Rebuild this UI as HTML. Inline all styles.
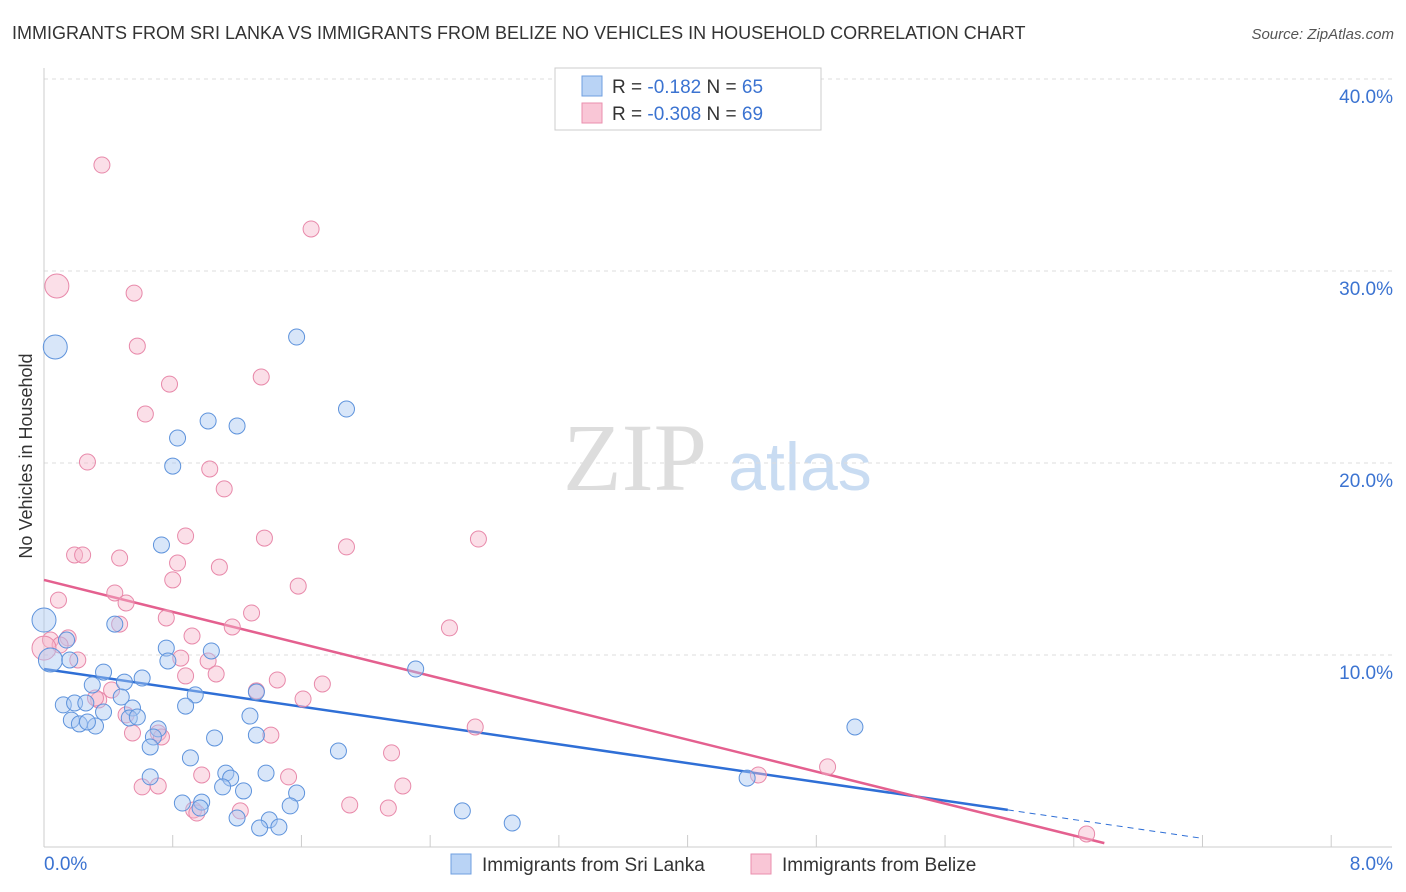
<!DOCTYPE html>
<html><head><meta charset="utf-8"><style>
body{margin:0;background:#fff;font-family:"Liberation Sans",sans-serif;}
#wrap{position:relative;width:1406px;height:892px;overflow:hidden;}
</style></head><body>
<div id="wrap">
<svg id="chart" width="1406" height="892">
<text x="12" y="39" font-size="18" fill="#333">IMMIGRANTS FROM SRI LANKA VS IMMIGRANTS FROM BELIZE NO VEHICLES IN HOUSEHOLD CORRELATION CHART</text>
<text x="1394" y="39" font-size="15" fill="#555" font-style="italic" text-anchor="end">Source: ZipAtlas.com</text>
<text x="32" y="456" font-size="18" fill="#333" text-anchor="middle" transform="rotate(-90 32 456)">No Vehicles in Household</text>
<g><text x="635" y="490" font-size="96" fill="#ddd" font-family="Liberation Serif" text-anchor="middle">ZIP</text><text x="800" y="490" font-size="68" fill="#c9dcf2" text-anchor="middle">atlas</text></g>
<g id="grid"></g><g id="trend"></g><g id="pts"></g>
<g>
<rect x="555" y="68" width="266" height="62" fill="#fff" stroke="#ccc"/>
<rect x="582" y="76" width="20" height="20" fill="#b9d3f5" stroke="#6f9fe0"/>
<rect x="582" y="103" width="20" height="20" fill="#f9c6d6" stroke="#ea8fae"/>
<text x="612" y="93" font-size="19" fill="#333">R = <tspan fill="#3b73d1">-0.182</tspan>   N = <tspan fill="#3b73d1">65</tspan></text>
<text x="612" y="120" font-size="19" fill="#333">R = <tspan fill="#3b73d1">-0.308</tspan>   N = <tspan fill="#3b73d1">69</tspan></text>
</g>
<g>
<rect x="451" y="854" width="20" height="20" fill="#b9d3f5" stroke="#6f9fe0"/>
<text x="482" y="871" font-size="19" fill="#333">Immigrants from Sri Lanka</text>
<rect x="751" y="854" width="20" height="20" fill="#f9c6d6" stroke="#ea8fae"/>
<text x="782" y="871" font-size="19" fill="#333">Immigrants from Belize</text>
</g>
</svg>
</div>
<script>
const yTicks=[10,20,30,40];
const yTickLabels=["10.0%","20.0%","30.0%","40.0%"];
const xTickLabels=["0.0%","8.0%"];
const blueX=[.07,1.57,1.88,1.02,1.20,.83,.80,.73,.44,.76,1.04,.77,0,.04,.16,.14,.37,.61,.30,.50,.48,.94,.88,.12,.19,.26,.55,.37,.53,.58,.17,.22,.32,.27,1.28,1.32,1.06,.71,1.32,.68,.66,.91,1.83,2.31,5.04,4.37,1.38,.66,1.13,1.16,1.11,1.24,1.57,.86,.98,1.53,2.60,2.91,1.20,1.40,1.46,1.34,.97];
const blueY=[26.04,26.56,22.81,22.19,21.93,21.30,19.84,15.73,11.61,10.36,10.21,9.69,11.82,9.74,9.74,10.78,9.11,8.80,8.44,8.59,7.81,7.92,7.34,7.40,7.50,7.50,7.24,7.03,6.72,6.77,6.61,6.41,6.30,6.51,6.82,8.07,5.68,6.15,5.83,5.73,5.21,4.64,5.00,9.27,6.25,3.59,3.85,3.65,3.85,3.59,3.13,2.92,2.81,2.29,2.34,2.14,1.88,1.25,1.51,1.41,1.04,.99,2.03];
const blueBig=[0,12,13];
const pinkX=[.36,1.66,.08,.56,.58,.78,1.35,.63,.27,1.03,1.12,.88,2.70,1.37,1.88,.19,.24,.47,.83,1.09,.80,1.58,.44,.09,.51,1.29,.76,2.52,1.17,.47,.92,.04,.15,.10,0,.21,.85,1.02,1.07,.88,1.45,1.73,1.32,1.61,.42,.34,.51,2.68,.55,1.41,.71,.73,2.16,.98,1.52,4.87,4.44,.61,.71,2.23,1.90,2.14,1.22,.93,.95,6.48,.32];
const pinkY=[35.52,32.19,29.22,28.85,26.09,24.11,24.48,22.55,20.05,19.69,18.65,16.20,16.04,16.09,15.63,15.21,15.21,15.05,14.79,14.58,13.91,13.59,13.23,12.86,12.71,12.19,11.93,11.41,11.46,11.61,10.99,10.78,10.89,10.52,10.36,9.74,9.84,9.69,9.01,8.91,8.70,8.49,8.13,7.71,8.18,7.66,6.88,6.25,5.94,5.83,5.94,5.73,4.90,3.75,3.65,4.17,3.75,3.13,3.18,3.18,2.19,2.03,1.88,1.93,1.77,.68,7.76];
const pinkBig=[2,34];
const blueTrend=[9.27,-1.225,5.99,7.2];
const pinkTrend=[13.91,-2.08,6.59];
const X=v=>44+v*160.9, Y=v=>847-v*19.2;
const NS="http://www.w3.org/2000/svg";
function mk(tag,attrs,parent){const e=document.createElementNS(NS,tag);for(const k in attrs)e.setAttribute(k,attrs[k]);parent.appendChild(e);return e;}
const grid=document.getElementById('grid');
yTicks.forEach((t,i)=>{
 const l=mk('line',{x1:44,x2:1392,y1:Y(t),y2:Y(t),stroke:'#ddd','stroke-dasharray':'4,4'},grid);
 
 
 const tx=mk('text',{x:1393,y:Y(t)+24,'font-size':19,fill:'#3b73d1','text-anchor':'end'},grid);
 tx.textContent=yTickLabels[i];
 
 
});
mk('line',{x1:44,x2:44,y1:68,y2:847,stroke:'#ccc'},grid);
mk('line',{x1:44,x2:1392,y1:847,y2:847,stroke:'#ccc'},grid);
for(let i=0;i<=10;i++){const t=mk('line',{x1:X(i*0.8),x2:X(i*0.8),y1:847,y2:835,stroke:'#ccc'},grid);
 
 }
const xl0=mk('text',{x:44,y:870,'font-size':19,fill:'#3b73d1'},grid);xl0.textContent=xTickLabels[0];


const xl1=mk('text',{x:1393,y:870,'font-size':19,fill:'#3b73d1','text-anchor':'end'},grid);xl1.textContent=xTickLabels[1];


const pts=document.getElementById('pts');
function draw(xs,ys,big,fill,stroke,name){xs.forEach((x,i)=>{
 const c=mk('circle',{cx:X(x),cy:Y(ys[i]),r:big.includes(i)?12:8,fill:fill,'fill-opacity':0.45,stroke:stroke,'stroke-width':1},pts);
 
 
});}
draw(pinkX,pinkY,pinkBig,'#f7b8cc','#e889aa','point-belize');
draw(blueX,blueY,blueBig,'#a9c8f2','#5e93dc','point-sri-lanka');
const tr=document.getElementById('trend');
const b1=mk('line',{x1:X(0),y1:Y(blueTrend[0]),x2:X(blueTrend[2]),y2:Y(blueTrend[0]+blueTrend[1]*blueTrend[2]),stroke:'#2f6fd6','stroke-width':2.5},tr);


const b2=mk('line',{x1:X(blueTrend[2]),y1:Y(blueTrend[0]+blueTrend[1]*blueTrend[2]),x2:X(blueTrend[3]),y2:Y(blueTrend[0]+blueTrend[1]*blueTrend[3]),stroke:'#2f6fd6','stroke-width':1,'stroke-dasharray':'6,5'},tr);


const p1=mk('line',{x1:X(0),y1:Y(pinkTrend[0]),x2:X(pinkTrend[2]),y2:Y(pinkTrend[0]+pinkTrend[1]*pinkTrend[2]),stroke:'#e4608f','stroke-width':2.5},tr);


</script>
</body></html>
